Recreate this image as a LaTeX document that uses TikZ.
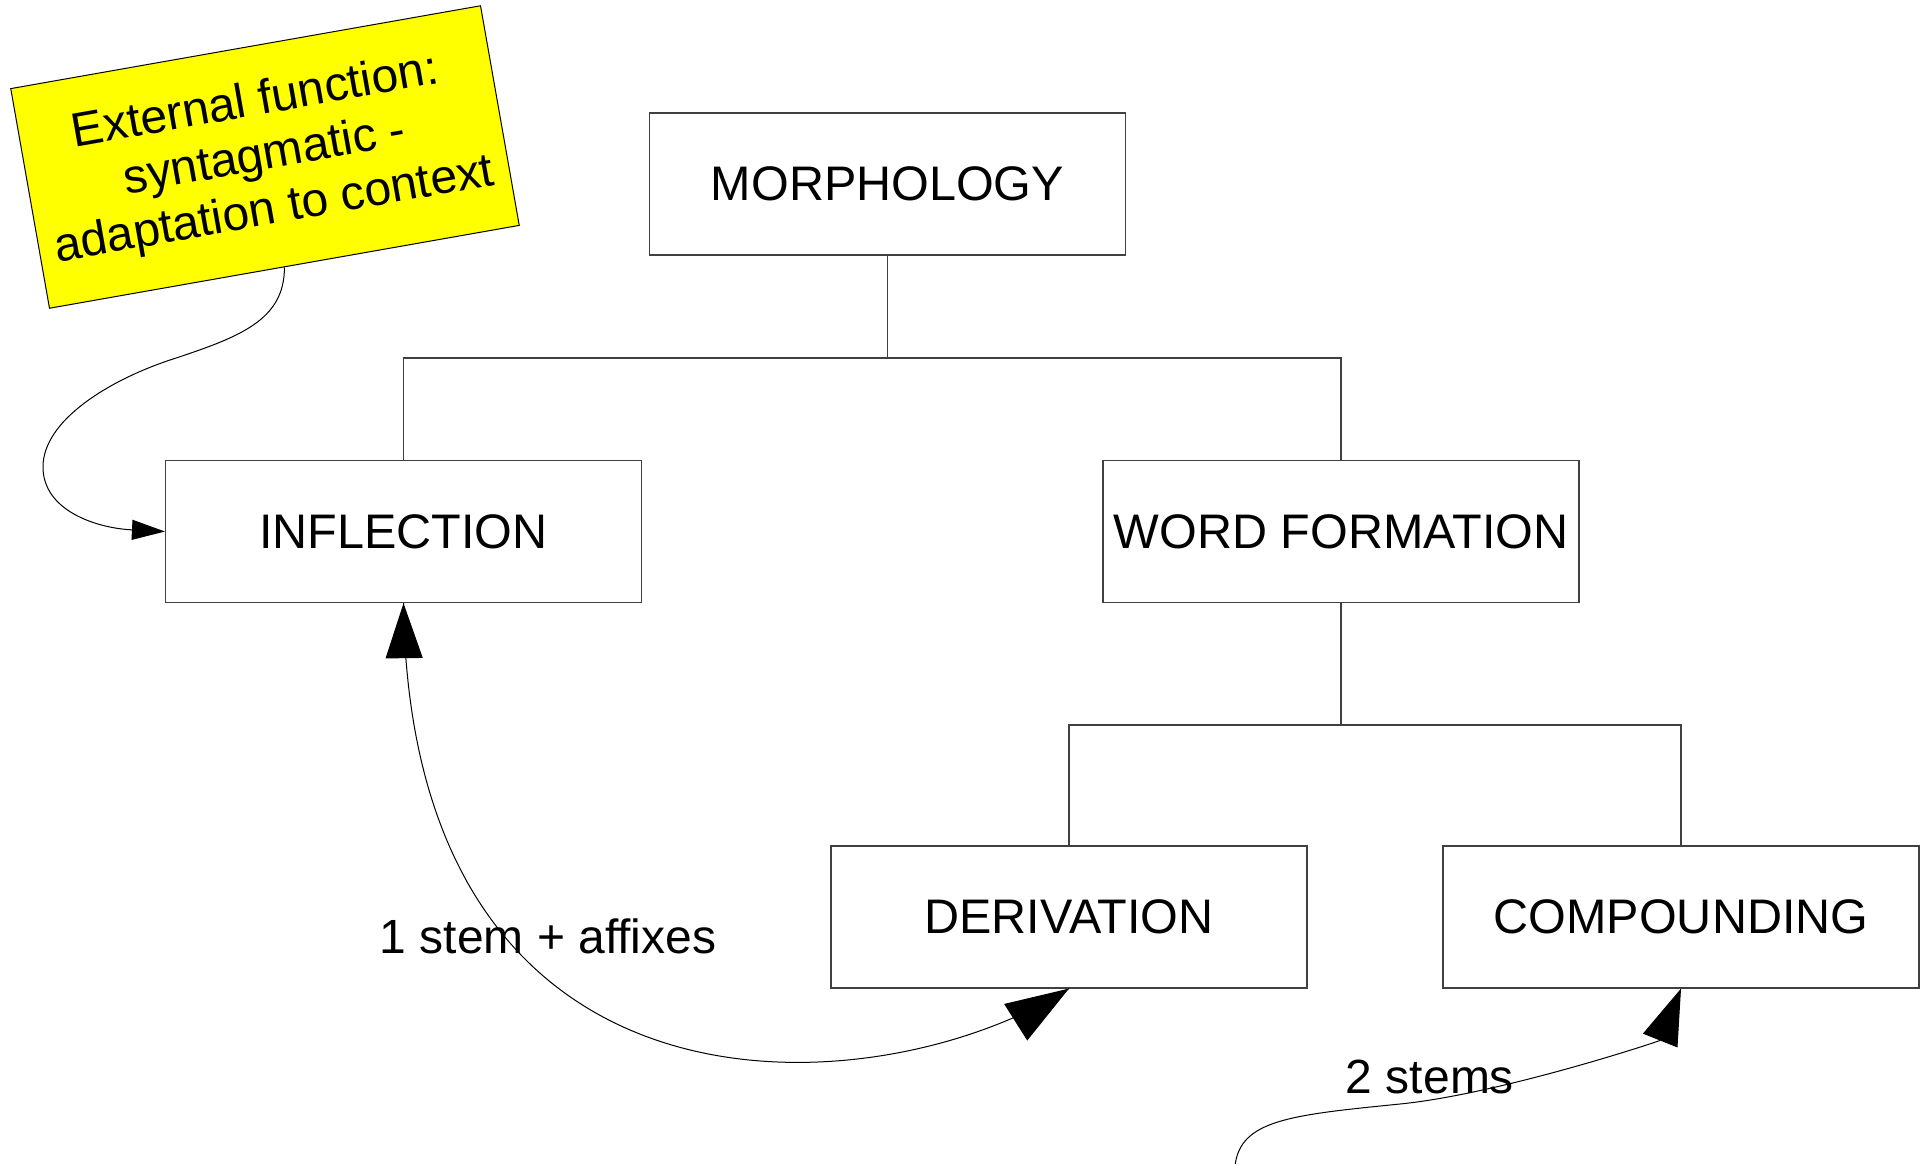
\documentclass[tikz,border=0pt]{standalone}
\usepackage{fontspec}
\setmainfont{Liberation Sans}
\usetikzlibrary{arrows.meta,decorations.markings}
\definecolor{noteyellow}{RGB}{255,255,0}
\begin{document}
\begin{tikzpicture}[x=1pt,y=-1pt,
  every node/.style={font=\fontsize{48.5}{55}\selectfont},
  box/.style={draw=black!75, line width=1.1pt, rectangle, minimum width=476pt, minimum height=142pt, inner sep=0pt, fill=white},
  note/.style={draw=black, line width=1pt, fill=noteyellow, rectangle, minimum width=477pt, minimum height=223pt, inner sep=0pt, align=center, font=\fontsize{48}{55}\selectfont},
  tree/.style={draw=black!75, line width=1.1pt},
  curve/.style={draw=black, line width=1pt},
  lbl/.style={inner sep=0pt, anchor=base, font=\fontsize{48}{55}\selectfont},
  bothtips/.style={postaction={decorate}, decoration={markings,
    mark=at position 0.0001 with {\arrowreversed{Triangle[length=55pt,width=37pt]}},
    mark=at position 0.9999 with {\arrow{Triangle[length=63pt,width=43pt]}}}}
]
\useasboundingbox (0,0) rectangle (1922,1163);
\fill[white] (0,0) rectangle (1922,1163);

% tree connectors
\coordinate (j1) at (887.5,358);
\coordinate (j2) at (1341,725);
\node[box] (morph) at (887.5,184) {MORPHOLOGY};
\node[box] (infl) at (403.5,531.5) {INFLECTION};
\node[box] (wf) at (1341,531.5) {WORD FORMATION};
\node[box] (deriv) at (1069,917) {DERIVATION};
\node[box] (comp) at (1681,917) {COMPOUNDING};

\draw[tree] (morph.south) -- (j1);
\draw[tree] (j1) -| (infl.north);
\draw[tree] (j1) -| (wf.north);
\draw[tree] (wf.south) -- (j2);
\draw[tree] (j2) -| (deriv.north);
\draw[tree] (j2) -| (comp.north);

% yellow note
\node[note, rotate=10] (note) at (265,157) {External function:\\syntagmatic -\\adaptation to context};

% note -> inflection
\draw[curve, -{Triangle[length=33pt,width=20pt]}] (note.south) .. controls +(0,53) and (240,337) .. (170,360)
  .. controls (110,380) and (43,420) .. (43,467)
  .. controls (43,510) and (95,528) .. (infl.west);

% labels
\node[lbl] (l1) at (548,953) {1 stem + affixes};
\node[lbl] (l2) at (1430,1093) {2 stems};

% inflection <-> derivation
\draw[curve, bothtips] (infl.south) .. controls (410,1145) and (880,1108) .. (deriv.south);

% 2 stems -> compounding
\coordinate (s2) at (1235,1166);
\draw[curve, -{Triangle[length=56pt,width=37pt]}] (s2) .. controls (1240,1120) and (1290,1115) .. (1400,1104)
  .. controls (1500,1094) and (1660,1041) .. (comp.south);
\end{tikzpicture}
\end{document}
